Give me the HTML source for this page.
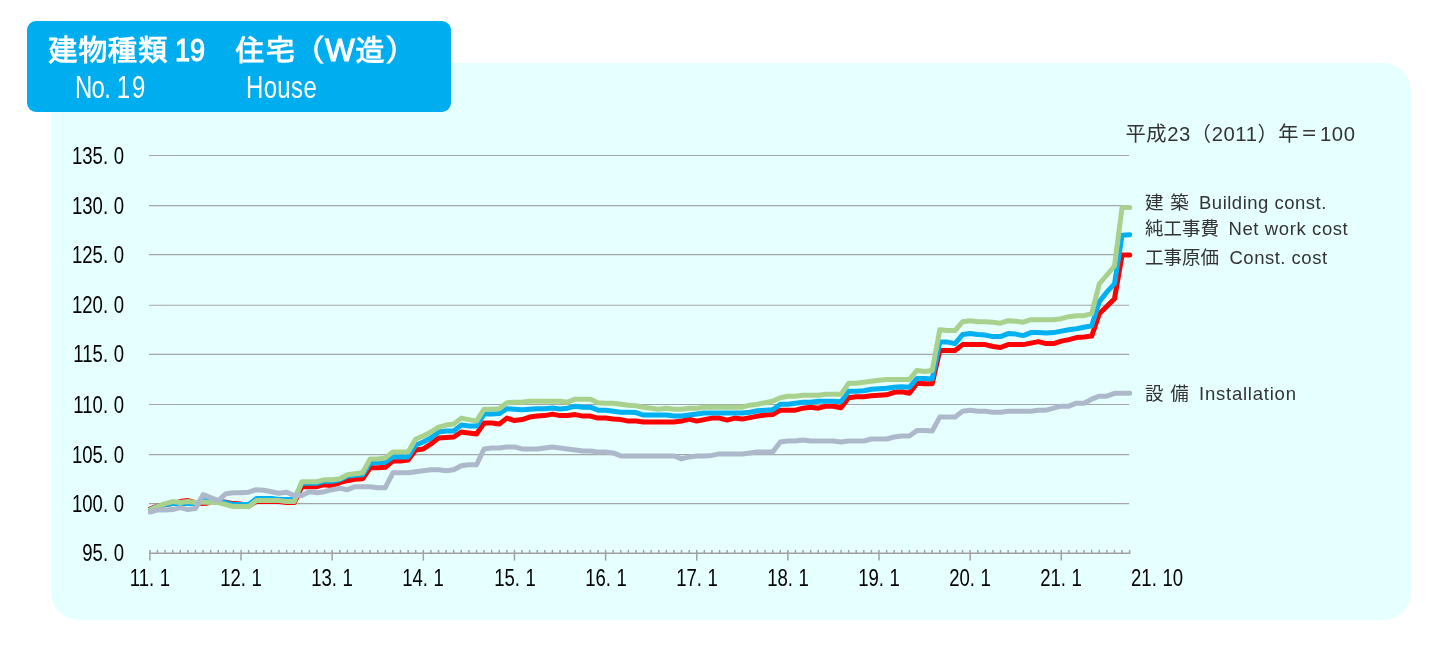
<!DOCTYPE html>
<html lang="ja">
<head>
<meta charset="utf-8">
<title>建物種類 19 住宅（W造）</title>
<style>
html,body{margin:0;padding:0;background:#fff;}
body{width:1431px;height:647px;position:relative;overflow:hidden;font-family:"Liberation Sans","IPAGothic",sans-serif;}
#panel{position:absolute;left:51.2px;top:62.7px;width:1360.1px;height:557.8px;background:#e6ffff;border-radius:28px;}
#title{position:absolute;left:26.8px;top:21px;width:424.3px;height:90.7px;background:#00aeef;border-radius:9px;color:#fff;}
#title div{position:absolute;white-space:nowrap;line-height:1;}
.t1{font-family:"Liberation Sans","IPAGothic",sans-serif;font-weight:bold;font-size:30px;}
.t1 .n{display:inline-block;font-size:32px;line-height:30px;font-weight:normal;-webkit-text-stroke:1.1px #fff;transform:scaleX(0.845);transform-origin:0 50%;margin-right:-5.5px;margin-left:-1.2px;}
.t1 .w{display:inline-block;font-size:31.5px;line-height:30px;font-weight:normal;-webkit-text-stroke:1.1px #fff;margin-right:0.3px;}
.t2{font-family:"Liberation Sans","IPAGothic",sans-serif;font-size:31.5px;transform-origin:0 0;transform:scaleX(0.76);letter-spacing:-0.9px;}
.t2 .p{letter-spacing:7.8px;}
.t2 .q{letter-spacing:2.5px;}
svg{position:absolute;left:0;top:0;}
.yl,.xl{position:absolute;font-family:"Liberation Sans",sans-serif;font-size:23.2px;line-height:26px;height:26px;color:#000;white-space:nowrap;letter-spacing:0px;}
.yl{left:0;width:150px;text-align:right;transform-origin:100% 50%;transform:scaleX(0.8);left:-26.4px;}
.xl{width:60px;text-align:center;transform-origin:50% 50%;transform:scaleX(0.8);top:564.8px;}
.p{letter-spacing:7px;}
.note,.lg{position:absolute;white-space:nowrap;color:#333;font-family:"Liberation Sans","Noto Sans CJK JP",sans-serif;}
.note .eq{display:inline-block;transform:scaleX(0.8);}
.note{left:1125.5px;top:120.2px;font-size:20.3px;line-height:28px;letter-spacing:0.55px;}
.lg{left:1145px;font-size:18.5px;line-height:24px;height:24px;word-spacing:1.6px;}
.lg .e{position:absolute;top:0;letter-spacing:0.5px;word-spacing:0;}
</style>
</head>
<body>
<div id="panel"></div>
<div id="title">
<div class="t1" style="left:21px;top:14.4px">建物種類 <span class="n">19</span>　住宅（<span class="w">W</span>造）</div>
<div class="t2" style="left:48.5px;top:51.3px">No<span class="p">.</span><span class="q">1</span>9</div>
<div class="t2" style="left:219px;top:51.3px;letter-spacing:0.5px">House</div>
</div>
<svg width="1431" height="647" viewBox="0 0 1431 647">
<g stroke="#a3a6a6" stroke-width="1.1" fill="none"><line x1="149" x2="1129.2" y1="503.65" y2="503.65"/><line x1="149" x2="1129.2" y1="454.65" y2="454.65"/><line x1="149" x2="1129.2" y1="404.50" y2="404.50"/><line x1="149" x2="1129.2" y1="354.35" y2="354.35"/><line x1="149" x2="1129.2" y1="305.30" y2="305.30"/><line x1="149" x2="1129.2" y1="254.65" y2="254.65"/><line x1="149" x2="1129.2" y1="205.65" y2="205.65"/><line x1="149" x2="1129.2" y1="155.50" y2="155.50"/></g>
<g stroke="#a1a1a1" stroke-width="1.4" fill="none"><line x1="149.2" x2="1130.3" y1="553.20" y2="553.20"/></g>
<g stroke="#a1a1a1" stroke-width="1.5" fill="none"><line x1="149.90" x2="149.90" y1="549.90" y2="560.60"/><line x1="157.50" x2="157.50" y1="549.90" y2="553.20"/><line x1="165.09" x2="165.09" y1="549.90" y2="553.20"/><line x1="172.69" x2="172.69" y1="549.90" y2="553.20"/><line x1="180.28" x2="180.28" y1="549.90" y2="553.20"/><line x1="187.88" x2="187.88" y1="549.90" y2="553.20"/><line x1="195.47" x2="195.47" y1="549.90" y2="553.20"/><line x1="203.06" x2="203.06" y1="549.90" y2="553.20"/><line x1="210.66" x2="210.66" y1="549.90" y2="553.20"/><line x1="218.25" x2="218.25" y1="549.90" y2="553.20"/><line x1="225.85" x2="225.85" y1="549.90" y2="553.20"/><line x1="233.44" x2="233.44" y1="549.90" y2="553.20"/><line x1="241.04" x2="241.04" y1="549.90" y2="560.60"/><line x1="248.63" x2="248.63" y1="549.90" y2="553.20"/><line x1="256.23" x2="256.23" y1="549.90" y2="553.20"/><line x1="263.82" x2="263.82" y1="549.90" y2="553.20"/><line x1="271.42" x2="271.42" y1="549.90" y2="553.20"/><line x1="279.01" x2="279.01" y1="549.90" y2="553.20"/><line x1="286.61" x2="286.61" y1="549.90" y2="553.20"/><line x1="294.21" x2="294.21" y1="549.90" y2="553.20"/><line x1="301.80" x2="301.80" y1="549.90" y2="553.20"/><line x1="309.39" x2="309.39" y1="549.90" y2="553.20"/><line x1="316.99" x2="316.99" y1="549.90" y2="553.20"/><line x1="324.59" x2="324.59" y1="549.90" y2="553.20"/><line x1="332.18" x2="332.18" y1="549.90" y2="560.60"/><line x1="339.77" x2="339.77" y1="549.90" y2="553.20"/><line x1="347.37" x2="347.37" y1="549.90" y2="553.20"/><line x1="354.97" x2="354.97" y1="549.90" y2="553.20"/><line x1="362.56" x2="362.56" y1="549.90" y2="553.20"/><line x1="370.15" x2="370.15" y1="549.90" y2="553.20"/><line x1="377.75" x2="377.75" y1="549.90" y2="553.20"/><line x1="385.35" x2="385.35" y1="549.90" y2="553.20"/><line x1="392.94" x2="392.94" y1="549.90" y2="553.20"/><line x1="400.53" x2="400.53" y1="549.90" y2="553.20"/><line x1="408.13" x2="408.13" y1="549.90" y2="553.20"/><line x1="415.73" x2="415.73" y1="549.90" y2="553.20"/><line x1="423.32" x2="423.32" y1="549.90" y2="560.60"/><line x1="430.91" x2="430.91" y1="549.90" y2="553.20"/><line x1="438.51" x2="438.51" y1="549.90" y2="553.20"/><line x1="446.11" x2="446.11" y1="549.90" y2="553.20"/><line x1="453.70" x2="453.70" y1="549.90" y2="553.20"/><line x1="461.29" x2="461.29" y1="549.90" y2="553.20"/><line x1="468.89" x2="468.89" y1="549.90" y2="553.20"/><line x1="476.49" x2="476.49" y1="549.90" y2="553.20"/><line x1="484.08" x2="484.08" y1="549.90" y2="553.20"/><line x1="491.67" x2="491.67" y1="549.90" y2="553.20"/><line x1="499.27" x2="499.27" y1="549.90" y2="553.20"/><line x1="506.87" x2="506.87" y1="549.90" y2="553.20"/><line x1="514.46" x2="514.46" y1="549.90" y2="560.60"/><line x1="522.05" x2="522.05" y1="549.90" y2="553.20"/><line x1="529.65" x2="529.65" y1="549.90" y2="553.20"/><line x1="537.25" x2="537.25" y1="549.90" y2="553.20"/><line x1="544.84" x2="544.84" y1="549.90" y2="553.20"/><line x1="552.43" x2="552.43" y1="549.90" y2="553.20"/><line x1="560.03" x2="560.03" y1="549.90" y2="553.20"/><line x1="567.62" x2="567.62" y1="549.90" y2="553.20"/><line x1="575.22" x2="575.22" y1="549.90" y2="553.20"/><line x1="582.81" x2="582.81" y1="549.90" y2="553.20"/><line x1="590.41" x2="590.41" y1="549.90" y2="553.20"/><line x1="598.00" x2="598.00" y1="549.90" y2="553.20"/><line x1="605.60" x2="605.60" y1="549.90" y2="560.60"/><line x1="613.19" x2="613.19" y1="549.90" y2="553.20"/><line x1="620.79" x2="620.79" y1="549.90" y2="553.20"/><line x1="628.38" x2="628.38" y1="549.90" y2="553.20"/><line x1="635.98" x2="635.98" y1="549.90" y2="553.20"/><line x1="643.58" x2="643.58" y1="549.90" y2="553.20"/><line x1="651.17" x2="651.17" y1="549.90" y2="553.20"/><line x1="658.76" x2="658.76" y1="549.90" y2="553.20"/><line x1="666.36" x2="666.36" y1="549.90" y2="553.20"/><line x1="673.95" x2="673.95" y1="549.90" y2="553.20"/><line x1="681.55" x2="681.55" y1="549.90" y2="553.20"/><line x1="689.14" x2="689.14" y1="549.90" y2="553.20"/><line x1="696.74" x2="696.74" y1="549.90" y2="560.60"/><line x1="704.33" x2="704.33" y1="549.90" y2="553.20"/><line x1="711.93" x2="711.93" y1="549.90" y2="553.20"/><line x1="719.52" x2="719.52" y1="549.90" y2="553.20"/><line x1="727.12" x2="727.12" y1="549.90" y2="553.20"/><line x1="734.71" x2="734.71" y1="549.90" y2="553.20"/><line x1="742.31" x2="742.31" y1="549.90" y2="553.20"/><line x1="749.90" x2="749.90" y1="549.90" y2="553.20"/><line x1="757.50" x2="757.50" y1="549.90" y2="553.20"/><line x1="765.09" x2="765.09" y1="549.90" y2="553.20"/><line x1="772.69" x2="772.69" y1="549.90" y2="553.20"/><line x1="780.28" x2="780.28" y1="549.90" y2="553.20"/><line x1="787.88" x2="787.88" y1="549.90" y2="560.60"/><line x1="795.47" x2="795.47" y1="549.90" y2="553.20"/><line x1="803.07" x2="803.07" y1="549.90" y2="553.20"/><line x1="810.66" x2="810.66" y1="549.90" y2="553.20"/><line x1="818.26" x2="818.26" y1="549.90" y2="553.20"/><line x1="825.85" x2="825.85" y1="549.90" y2="553.20"/><line x1="833.45" x2="833.45" y1="549.90" y2="553.20"/><line x1="841.04" x2="841.04" y1="549.90" y2="553.20"/><line x1="848.64" x2="848.64" y1="549.90" y2="553.20"/><line x1="856.23" x2="856.23" y1="549.90" y2="553.20"/><line x1="863.83" x2="863.83" y1="549.90" y2="553.20"/><line x1="871.42" x2="871.42" y1="549.90" y2="553.20"/><line x1="879.02" x2="879.02" y1="549.90" y2="560.60"/><line x1="886.62" x2="886.62" y1="549.90" y2="553.20"/><line x1="894.21" x2="894.21" y1="549.90" y2="553.20"/><line x1="901.80" x2="901.80" y1="549.90" y2="553.20"/><line x1="909.40" x2="909.40" y1="549.90" y2="553.20"/><line x1="917.00" x2="917.00" y1="549.90" y2="553.20"/><line x1="924.59" x2="924.59" y1="549.90" y2="553.20"/><line x1="932.18" x2="932.18" y1="549.90" y2="553.20"/><line x1="939.78" x2="939.78" y1="549.90" y2="553.20"/><line x1="947.38" x2="947.38" y1="549.90" y2="553.20"/><line x1="954.97" x2="954.97" y1="549.90" y2="553.20"/><line x1="962.56" x2="962.56" y1="549.90" y2="553.20"/><line x1="970.16" x2="970.16" y1="549.90" y2="560.60"/><line x1="977.75" x2="977.75" y1="549.90" y2="553.20"/><line x1="985.35" x2="985.35" y1="549.90" y2="553.20"/><line x1="992.94" x2="992.94" y1="549.90" y2="553.20"/><line x1="1000.54" x2="1000.54" y1="549.90" y2="553.20"/><line x1="1008.13" x2="1008.13" y1="549.90" y2="553.20"/><line x1="1015.73" x2="1015.73" y1="549.90" y2="553.20"/><line x1="1023.32" x2="1023.32" y1="549.90" y2="553.20"/><line x1="1030.92" x2="1030.92" y1="549.90" y2="553.20"/><line x1="1038.52" x2="1038.52" y1="549.90" y2="553.20"/><line x1="1046.11" x2="1046.11" y1="549.90" y2="553.20"/><line x1="1053.70" x2="1053.70" y1="549.90" y2="553.20"/><line x1="1061.30" x2="1061.30" y1="549.90" y2="560.60"/><line x1="1068.89" x2="1068.89" y1="549.90" y2="553.20"/><line x1="1076.49" x2="1076.49" y1="549.90" y2="553.20"/><line x1="1084.09" x2="1084.09" y1="549.90" y2="553.20"/><line x1="1091.68" x2="1091.68" y1="549.90" y2="553.20"/><line x1="1099.28" x2="1099.28" y1="549.90" y2="553.20"/><line x1="1106.87" x2="1106.87" y1="549.90" y2="553.20"/><line x1="1114.46" x2="1114.46" y1="549.90" y2="553.20"/><line x1="1122.06" x2="1122.06" y1="549.90" y2="553.20"/><line x1="1129.65" x2="1129.65" y1="549.90" y2="553.20"/></g>
<defs><clipPath id="pc"><rect x="148.1" y="120" width="1000" height="460"/></clipPath></defs>
<g fill="none" stroke-width="5" stroke-linejoin="round" stroke-linecap="round" clip-path="url(#pc)">
<polyline stroke="#ff0000" points="149.9,509.1 157.5,506.1 165.1,504.6 172.7,503.6 180.3,501.6 187.9,500.6 195.5,502.6 203.1,503.6 210.7,502.6 218.3,502.6 225.9,502.1 233.4,503.6 241.0,504.1 248.6,506.1 256.2,501.6 263.8,501.6 271.4,501.6 279.0,501.6 286.6,502.6 294.2,502.6 301.8,486.7 309.4,486.7 317.0,486.7 324.6,484.7 332.2,485.7 339.8,482.7 347.4,480.7 355.0,479.2 362.6,478.8 370.2,467.8 377.8,467.8 385.3,467.3 392.9,460.9 400.5,460.9 408.1,459.9 415.7,449.9 423.3,448.9 430.9,444.0 438.5,438.0 446.1,437.5 453.7,437.0 461.3,432.0 468.9,433.0 476.5,434.0 484.1,423.1 491.7,423.1 499.3,424.1 506.9,418.1 514.5,420.6 522.1,419.6 529.6,417.1 537.2,416.1 544.8,415.6 552.4,414.1 560.0,415.6 567.6,415.6 575.2,414.6 582.8,416.1 590.4,416.1 598.0,418.1 605.6,418.1 613.2,419.1 620.8,419.6 628.4,421.1 636.0,421.1 643.6,422.1 651.2,422.1 658.8,422.1 666.4,422.1 674.0,422.1 681.5,421.1 689.1,419.1 696.7,421.1 704.3,419.6 711.9,418.1 719.5,418.1 727.1,420.1 734.7,418.1 742.3,419.1 749.9,417.6 757.5,416.1 765.1,415.1 772.7,414.6 780.3,410.2 787.9,410.2 795.5,410.2 803.1,408.2 810.7,407.2 818.3,408.2 825.9,406.2 833.4,406.2 841.0,407.7 848.6,397.7 856.2,396.7 863.8,396.7 871.4,395.8 879.0,395.3 886.6,394.8 894.2,392.3 901.8,391.8 909.4,393.3 917.0,383.3 924.6,383.8 932.2,383.8 939.8,350.5 947.4,350.5 955.0,350.5 962.6,344.6 970.2,344.6 977.8,344.6 985.3,344.6 992.9,346.5 1000.5,347.5 1008.1,344.6 1015.7,344.6 1023.3,344.6 1030.9,343.1 1038.5,341.6 1046.1,343.6 1053.7,343.6 1061.3,341.1 1068.9,339.6 1076.5,337.6 1084.1,337.1 1091.7,336.1 1099.3,313.7 1106.9,306.3 1114.5,298.8 1122.1,255.1 1129.7,255.1"/>
<polyline stroke="#00b0f0" points="149.9,509.6 157.5,506.6 165.1,504.6 172.7,503.6 180.3,503.6 187.9,503.6 195.5,503.6 203.1,500.6 210.7,501.6 218.3,501.6 225.9,502.6 233.4,504.6 241.0,504.6 248.6,504.6 256.2,498.6 263.8,498.6 271.4,498.6 279.0,499.6 286.6,499.6 294.2,499.6 301.8,483.2 309.4,483.2 317.0,483.2 324.6,481.2 332.2,481.2 339.8,479.7 347.4,476.3 355.0,475.3 362.6,474.8 370.2,462.8 377.8,462.8 385.3,462.3 392.9,456.9 400.5,456.9 408.1,456.9 415.7,445.0 423.3,442.0 430.9,438.0 438.5,432.0 446.1,431.0 453.7,431.0 461.3,425.1 468.9,426.1 476.5,426.1 484.1,414.1 491.7,414.1 499.3,413.6 506.9,408.7 514.5,409.2 522.1,409.7 529.6,409.2 537.2,408.7 544.8,408.7 552.4,408.0 560.0,409.0 567.6,408.2 575.2,406.2 582.8,407.2 590.4,407.2 598.0,410.2 605.6,410.2 613.2,411.2 620.8,412.2 628.4,412.2 636.0,412.6 643.6,415.1 651.2,415.1 658.8,415.1 666.4,415.1 674.0,416.1 681.5,416.1 689.1,415.1 696.7,414.1 704.3,413.1 711.9,413.1 719.5,413.1 727.1,413.1 734.7,413.1 742.3,413.1 749.9,412.2 757.5,410.7 765.1,410.2 772.7,409.7 780.3,404.2 787.9,404.2 795.5,403.2 803.1,402.2 810.7,402.2 818.3,401.2 825.9,401.2 833.4,401.2 841.0,401.7 848.6,391.3 856.2,391.3 863.8,390.8 871.4,389.3 879.0,388.8 886.6,388.3 894.2,387.3 901.8,386.8 909.4,387.3 917.0,378.4 924.6,378.4 932.2,378.9 939.8,342.1 947.4,342.1 955.0,343.6 962.6,334.6 970.2,333.6 977.8,334.6 985.3,335.1 992.9,336.6 1000.5,336.6 1008.1,333.6 1015.7,334.1 1023.3,335.6 1030.9,332.6 1038.5,332.6 1046.1,333.1 1053.7,332.6 1061.3,331.1 1068.9,329.7 1076.5,328.7 1084.1,327.2 1091.7,325.7 1099.3,301.8 1106.9,291.9 1114.5,283.9 1122.1,235.2 1129.7,234.7"/>
<polyline stroke="#a9d18e" points="149.9,510.1 157.5,506.6 165.1,503.6 172.7,501.6 180.3,502.6 187.9,501.6 195.5,502.6 203.1,502.1 210.7,502.6 218.3,502.6 225.9,504.6 233.4,506.6 241.0,506.6 248.6,506.6 256.2,500.6 263.8,500.6 271.4,500.6 279.0,500.6 286.6,501.6 294.2,501.6 301.8,481.7 309.4,481.7 317.0,481.7 324.6,479.7 332.2,479.7 339.8,478.8 347.4,474.8 355.0,473.8 362.6,472.8 370.2,458.9 377.8,458.9 385.3,457.9 392.9,451.9 400.5,451.9 408.1,451.9 415.7,439.0 423.3,436.0 430.9,432.0 438.5,427.1 446.1,425.1 453.7,424.1 461.3,418.1 468.9,419.6 476.5,421.1 484.1,409.2 491.7,409.2 499.3,408.7 506.9,402.7 514.5,402.2 522.1,402.2 529.6,401.2 537.2,401.2 544.8,401.2 552.4,401.2 560.0,401.2 567.6,402.2 575.2,399.2 582.8,399.2 590.4,399.2 598.0,402.7 605.6,403.2 613.2,403.2 620.8,404.2 628.4,405.2 636.0,405.7 643.6,407.2 651.2,408.2 658.8,409.2 666.4,408.2 674.0,409.2 681.5,409.2 689.1,408.2 696.7,408.2 704.3,407.2 711.9,407.2 719.5,407.2 727.1,407.2 734.7,407.2 742.3,407.2 749.9,405.2 757.5,404.2 765.1,402.7 772.7,401.2 780.3,397.7 787.9,396.2 795.5,396.2 803.1,395.3 810.7,395.3 818.3,395.3 825.9,394.3 833.4,394.3 841.0,394.3 848.6,383.3 856.2,383.3 863.8,382.3 871.4,381.3 879.0,380.3 886.6,379.4 894.2,379.4 901.8,379.4 909.4,379.4 917.0,370.4 924.6,371.4 932.2,370.4 939.8,329.7 947.4,330.6 955.0,330.6 962.6,321.7 970.2,320.7 977.8,321.7 985.3,321.7 992.9,322.2 1000.5,323.2 1008.1,320.7 1015.7,321.2 1023.3,322.2 1030.9,319.7 1038.5,319.7 1046.1,319.7 1053.7,319.7 1061.3,318.7 1068.9,316.7 1076.5,315.7 1084.1,315.7 1091.7,313.7 1099.3,283.9 1106.9,275.0 1114.5,266.0 1122.1,207.4 1129.7,207.4"/>
<polyline stroke="#adb9ca" points="149.9,512.0 157.5,510.1 165.1,510.1 172.7,509.6 180.3,507.6 187.9,509.6 195.5,508.6 203.1,494.7 210.7,497.6 218.3,500.6 225.9,493.7 233.4,492.7 241.0,492.7 248.6,492.2 256.2,489.7 263.8,490.2 271.4,491.7 279.0,493.2 286.6,492.2 294.2,495.6 301.8,495.6 309.4,491.7 317.0,492.7 324.6,491.7 332.2,489.7 339.8,488.2 347.4,489.7 355.0,486.7 362.6,486.7 370.2,486.7 377.8,487.7 385.3,487.7 392.9,472.8 400.5,472.8 408.1,472.8 415.7,471.8 423.3,470.8 430.9,469.8 438.5,469.8 446.1,470.8 453.7,469.8 461.3,465.8 468.9,464.8 476.5,464.8 484.1,448.9 491.7,447.9 499.3,447.9 506.9,446.9 514.5,446.9 522.1,448.9 529.6,448.9 537.2,448.9 544.8,447.9 552.4,446.9 560.0,447.9 567.6,448.9 575.2,449.9 582.8,450.9 590.4,450.9 598.0,451.9 605.6,451.9 613.2,452.9 620.8,455.9 628.4,455.9 636.0,455.9 643.6,455.9 651.2,455.9 658.8,455.9 666.4,455.9 674.0,455.9 681.5,458.9 689.1,456.9 696.7,455.9 704.3,455.9 711.9,455.4 719.5,453.9 727.1,453.9 734.7,453.9 742.3,453.9 749.9,452.9 757.5,451.9 765.1,451.9 772.7,451.9 780.3,442.0 787.9,441.0 795.5,441.0 803.1,440.0 810.7,441.0 818.3,441.0 825.9,441.0 833.4,441.0 841.0,442.0 848.6,441.0 856.2,441.0 863.8,441.0 871.4,439.0 879.0,439.0 886.6,439.0 894.2,437.0 901.8,436.0 909.4,436.0 917.0,430.5 924.6,430.5 932.2,431.0 939.8,417.1 947.4,417.1 955.0,417.1 962.6,411.2 970.2,410.2 977.8,411.2 985.3,411.2 992.9,412.2 1000.5,412.2 1008.1,411.2 1015.7,411.2 1023.3,411.2 1030.9,411.2 1038.5,410.2 1046.1,410.2 1053.7,408.2 1061.3,406.2 1068.9,406.2 1076.5,403.2 1084.1,403.2 1091.7,399.2 1099.3,396.2 1106.9,396.2 1114.5,393.3 1122.1,393.3 1129.7,393.3"/>
</g>
</svg>
<div class="yl" style="top:540.2px">95<span class="p">.</span>0</div>
<div class="yl" style="top:490.6px">100<span class="p">.</span>0</div>
<div class="yl" style="top:441.6px">105<span class="p">.</span>0</div>
<div class="yl" style="top:391.5px">110<span class="p">.</span>0</div>
<div class="yl" style="top:341.4px">115<span class="p">.</span>0</div>
<div class="yl" style="top:292.3px">120<span class="p">.</span>0</div>
<div class="yl" style="top:241.7px">125<span class="p">.</span>0</div>
<div class="yl" style="top:192.7px">130<span class="p">.</span>0</div>
<div class="yl" style="top:142.5px">135<span class="p">.</span>0</div>

<div class="xl" style="left:119.9px">11<span class="p">.</span>1</div>
<div class="xl" style="left:211.0px">12<span class="p">.</span>1</div>
<div class="xl" style="left:302.2px">13<span class="p">.</span>1</div>
<div class="xl" style="left:393.3px">14<span class="p">.</span>1</div>
<div class="xl" style="left:484.5px">15<span class="p">.</span>1</div>
<div class="xl" style="left:575.6px">16<span class="p">.</span>1</div>
<div class="xl" style="left:666.7px">17<span class="p">.</span>1</div>
<div class="xl" style="left:757.9px">18<span class="p">.</span>1</div>
<div class="xl" style="left:849.0px">19<span class="p">.</span>1</div>
<div class="xl" style="left:940.2px">20<span class="p">.</span>1</div>
<div class="xl" style="left:1031.3px">21<span class="p">.</span>1</div>
<div class="xl" style="left:1125.2px">21<span class="p">.</span>10</div>

<div class="note">平成23（2011）年<span class="eq">＝</span>100</div>
<div class="lg" style="top:191.3px"><span class="j">建 築</span> <span class="e" style="left:54px">Building const.</span></div>
<div class="lg" style="top:217.3px"><span class="j">純工事費</span> <span class="e" style="left:83.5px;letter-spacing:0.6px">Net work cost</span></div>
<div class="lg" style="top:245.9px"><span class="j">工事原価</span> <span class="e" style="left:84.5px">Const. cost</span></div>
<div class="lg" style="top:381.8px"><span class="j">設 備</span> <span class="e" style="left:54px;letter-spacing:0.77px">Installation</span></div>
</body>
</html>
